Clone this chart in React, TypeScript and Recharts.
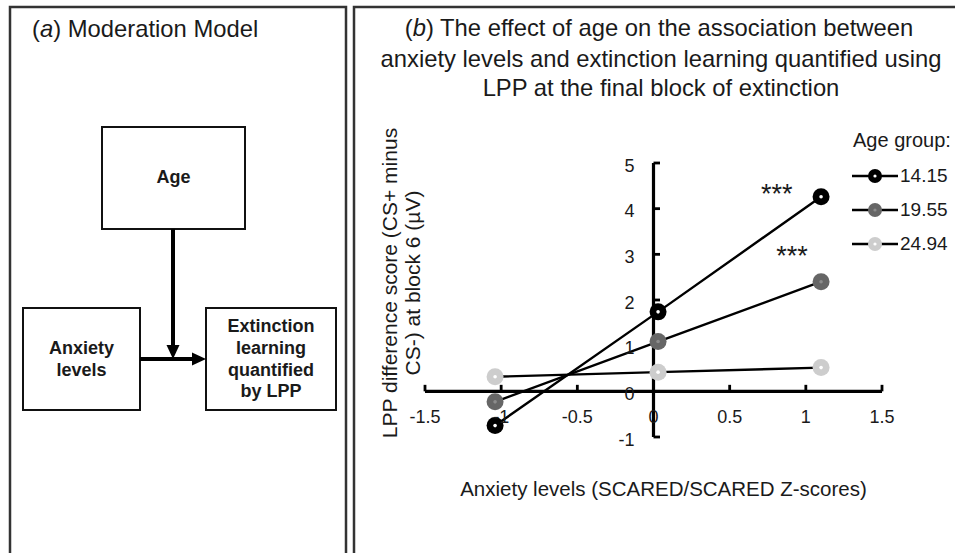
import React from 'react';
import { LineChart, Line, XAxis, YAxis, ReferenceLine, ReferenceDot, Legend, Label } from 'recharts';

// data
const ANXIETY_X = [-1.04, 0.03, 1.1];
const AGE_GROUPS = ['14.15', '19.55', '24.94'];
const LPP_AGE_14 = [-0.75, 1.74, 4.26];
const LPP_AGE_19 = [-0.23, 1.09, 2.4];
const LPP_AGE_24 = [0.32, 0.42, 0.52];
const X_TICKS = [-1.5, -1, -0.5, 0, 0.5, 1, 1.5];
const Y_TICKS = [-1, 0, 1, 2, 3, 4, 5];
const SIG_X = [0.81, 0.91];
const SIG_Y = [4.45, 3.1];
const SIG_LABEL = '***';

const FONT = '"Liberation Sans", Arial, Helvetica, sans-serif';
const INK = '#1a1a1a';

// plot box
const PLOT_LEFT = 425;
const PLOT_RIGHT = 882;
const PLOT_TOP = 163;
const PLOT_BOTTOM = 437;
const AXIS_PAD = 1;
const X_DOMAIN: [number, number] = [-1.5, 1.5];
const Y_DOMAIN: [number, number] = [-1, 5];
const ZERO_X = PLOT_LEFT + ((0 - X_DOMAIN[0]) / (X_DOMAIN[1] - X_DOMAIN[0])) * (PLOT_RIGHT - PLOT_LEFT);
const ZERO_Y = PLOT_TOP + ((Y_DOMAIN[1] - 0) / (Y_DOMAIN[1] - Y_DOMAIN[0])) * (PLOT_BOTTOM - PLOT_TOP);
// tick stub length in data units
const STUB_PX = 6.5;
const X_STUB = (STUB_PX / (PLOT_BOTTOM - PLOT_TOP)) * (Y_DOMAIN[1] - Y_DOMAIN[0]);
const Y_STUB = (STUB_PX / (PLOT_RIGHT - PLOT_LEFT)) * (X_DOMAIN[1] - X_DOMAIN[0]);

const SERIES = [
  { name: AGE_GROUPS[0], values: LPP_AGE_14, fill: '#000000', core: '#ffffff' },
  { name: AGE_GROUPS[1], values: LPP_AGE_19, fill: '#666666', core: '#8c8c8c' },
  { name: AGE_GROUPS[2], values: LPP_AGE_24, fill: '#cdcdcd', core: '#ffffff' },
];

const toPoints = (vals: number[]) => ANXIETY_X.map((x, i) => ({ x, y: vals[i] }));

const makeDot = (fill: string, core: string) => (props: any) => {
  const { cx, cy, index } = props;
  if (cx == null || cy == null) return <g key={index} />;
  return (
    <g key={index}>
      <circle cx={cx} cy={cy} r={8.5} fill={fill} />
      <circle cx={cx} cy={cy} r={1.8} fill={core} />
    </g>
  );
};

const XTick = (props: any) => {
  const { x, payload } = props;
  return (
    <text x={x} y={ZERO_Y + 32} textAnchor="middle" fontSize={18} fill={INK} fontFamily={FONT}>
      {payload.value}
    </text>
  );
};

const YTick = (props: any) => {
  const { y, payload } = props;
  return (
    <text x={ZERO_X - 19} y={y + 8.5} textAnchor="end" fontSize={18} fill={INK} fontFamily={FONT}>
      {payload.value}
    </text>
  );
};

const YLabelContent = () => {
  const cy = 283;
  return (
    <g fontSize={21} fill={INK} fontFamily={FONT}>
      <text x={397} y={cy} textAnchor="middle" transform={`rotate(-90 397 ${cy})`}>
        LPP difference score (CS+ minus
      </text>
      <text x={420} y={cy} textAnchor="middle" transform={`rotate(-90 420 ${cy})`}>
        CS-) at block 6 (µV)
      </text>
    </g>
  );
};

const StarShape = (props: any) => (
  <text x={props.cx} y={props.cy + 15} textAnchor="middle" fontSize={27} fill={INK} fontFamily={FONT}>
    {SIG_LABEL}
  </text>
);

const AgeLegend = () => (
  <div style={{ fontFamily: FONT, color: INK }}>
    <div style={{ fontSize: 20, lineHeight: '24px', marginLeft: 1 }}>Age group:</div>
    <div style={{ marginTop: 7 }}>
      {SERIES.map((s) => (
        <div key={s.name} style={{ display: 'flex', alignItems: 'center', height: 34 }}>
          <svg width={46} height={18} style={{ display: 'block' }}>
            <line x1={0} x2={46} y1={9} y2={9} stroke="#000" strokeWidth={2.5} />
            <circle cx={23} cy={9} r={7} fill={s.fill} />
            <circle cx={23} cy={9} r={1.6} fill={s.core} />
          </svg>
          <span style={{ fontSize: 19, marginLeft: 2 }}>{s.name}</span>
        </div>
      ))}
    </div>
  </div>
);

const TITLE_SIZE = 23.8;

const ModerationPanel = () => (
  <svg width={955} height={553} style={{ position: 'absolute', left: 0, top: 0 }}>
    {/* panel frames */}
    <rect x={10} y={7} width={336} height={560} fill="none" stroke="#333" strokeWidth={2.5} />
    <rect x={354} y={7} width={620} height={560} fill="none" stroke="#333" strokeWidth={2.5} />

    <text x={32} y={37} fontSize={TITLE_SIZE} fill={INK} fontFamily={FONT}>
      (<tspan fontStyle="italic">a</tspan>)  Moderation Model
    </text>
    <text x={659} y={36} textAnchor="middle" fontSize={TITLE_SIZE} fill={INK} fontFamily={FONT}>
      (<tspan fontStyle="italic">b</tspan>)  The effect of age on the association between
    </text>
    <text x={661} y={67} textAnchor="middle" fontSize={TITLE_SIZE} fill={INK} fontFamily={FONT}>
      anxiety levels and extinction learning quantified using
    </text>
    <text x={661} y={96} textAnchor="middle" fontSize={TITLE_SIZE} fill={INK} fontFamily={FONT}>
      LPP at the final block of extinction
    </text>

    {/* boxes */}
    <g fill="#fff" stroke="#111" strokeWidth={2}>
      <rect x={102} y={127} width={143} height={102} />
      <rect x={23} y={308} width={117} height={102} />
      <rect x={206} y={308} width={130} height={102} />
    </g>
    <g fontSize={18} fontWeight="bold" fill={INK} fontFamily={FONT} textAnchor="middle">
      <text x={173.5} y={183}>Age</text>
      <text x={81.5} y={354}>Anxiety</text>
      <text x={81.5} y={376}>levels</text>
      <text x={271} y={332}>Extinction</text>
      <text x={271} y={354}>learning</text>
      <text x={271} y={376}>quantified</text>
      <text x={271} y={397}>by LPP</text>
    </g>

    {/* arrows */}
    <line x1={173} x2={173} y1={229} y2={348} stroke="#000" strokeWidth={4} />
    <polygon points="166.5,345 179.5,345 173,359" fill="#000" />
    <line x1={140} x2={195} y1={359} y2={359} stroke="#000" strokeWidth={4} />
    <polygon points="192,352.5 192,365.5 206,359" fill="#000" />
  </svg>
);

export default function App() {
  return (
    <div
      style={{
        position: 'absolute',
        left: 0,
        top: 0,
        width: 955,
        height: 553,
        background: '#fff',
        overflow: 'hidden',
        fontFamily: FONT,
      }}
    >
      <ModerationPanel />
      <div style={{ position: 'absolute', left: 0, top: 0 }}>
        <LineChart
          width={955}
          height={553}
          margin={{
            top: PLOT_TOP,
            right: 955 - PLOT_RIGHT,
            bottom: 553 - PLOT_BOTTOM - AXIS_PAD,
            left: PLOT_LEFT - AXIS_PAD,
          }}
        >
          <XAxis
            type="number"
            dataKey="x"
            domain={X_DOMAIN}
            ticks={X_TICKS}
            interval={0}
            height={AXIS_PAD}
            axisLine={false}
            tickLine={false}
            tick={<XTick />}
            allowDataOverflow
          >
            <Label
              value="Anxiety levels (SCARED/SCARED Z-scores)"
              position="bottom"
              offset={43}
              dx={10}
              fontSize={20.5}
              fill={INK}
              fontFamily={FONT}
            />
          </XAxis>
          <YAxis
            type="number"
            domain={Y_DOMAIN}
            ticks={Y_TICKS}
            interval={0}
            width={AXIS_PAD}
            axisLine={false}
            tickLine={false}
            tick={<YTick />}
            allowDataOverflow
          >
            <Label content={<YLabelContent />} />
          </YAxis>
          <ReferenceLine x={0} stroke="#000" strokeWidth={3.2} />
          <ReferenceLine y={0} stroke="#000" strokeWidth={3.2} />
          {X_TICKS.filter((t) => t !== 0).map((t) => (
            <ReferenceLine
              key={`xs${t}`}
              segment={[
                { x: t, y: 0 },
                { x: t, y: X_STUB },
              ]}
              stroke="#000"
              strokeWidth={2.8}
              ifOverflow="visible"
            />
          ))}
          {Y_TICKS.map((t) => (
            <ReferenceLine
              key={`ys${t}`}
              segment={[
                { x: 0, y: t },
                { x: Y_STUB, y: t },
              ]}
              stroke="#000"
              strokeWidth={2.8}
              ifOverflow="visible"
            />
          ))}
          {SERIES.map((s) => (
            <Line
              key={s.name}
              name={s.name}
              data={toPoints(s.values)}
              dataKey="y"
              type="linear"
              stroke="#000"
              strokeWidth={2.4}
              dot={makeDot(s.fill, s.core)}
              activeDot={false}
              isAnimationActive={false}
            />
          ))}
          {SIG_X.map((x, i) => (
            <ReferenceDot key={i} x={x} y={SIG_Y[i]} r={0} shape={<StarShape />} />
          ))}
          <Legend
            layout="vertical"
            align="center"
            verticalAlign="middle"
            wrapperStyle={{ left: 852, top: 128, width: 110 }}
            content={<AgeLegend />}
          />
        </LineChart>
      </div>
    </div>
  );
}
